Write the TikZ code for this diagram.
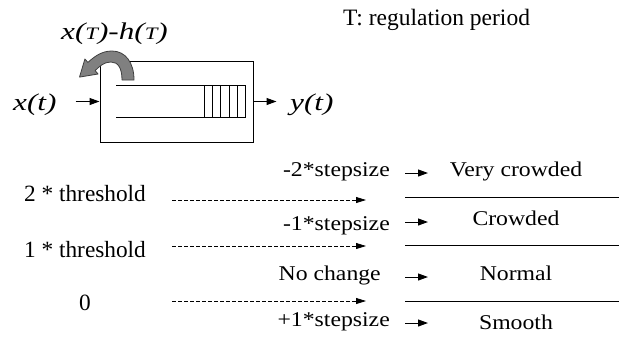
\documentclass[tikz,border=0pt]{standalone}
\usepackage{fontspec}
\setmainfont{Liberation Serif}
\newfontfamily\widefont[FakeStretch=1.3]{Liberation Serif}
\newfontfamily\halfwidefont[FakeStretch=1.13]{Liberation Serif}
\usetikzlibrary{arrows.meta}
\definecolor{loopfill}{HTML}{808080}
\definecolor{loopedge}{HTML}{404040}
\newcommand{\smallT}{{\fontsize{17.5}{20}\selectfont T}}

\begin{document}
\begin{tikzpicture}[
  x=1pt,
  y=-1pt,
  every node/.style={inner sep=0pt},
  signal/.style={font=\widefont\itshape\fontsize{24}{28}\selectfont},
  level/.style={font=\fontsize{23.3}{27}\selectfont, anchor=base},
  change/.style={font=\halfwidefont\fontsize{21}{25}\selectfont, anchor=base east},
  state/.style={font=\halfwidefont\fontsize{21}{25}\selectfont, anchor=base},
  flow/.style={line width=1pt, -{Triangle[length=10pt, width=7pt]}},
  cut/.style={line width=0.8pt, dash pattern=on 4pt off 2pt,
              -{Triangle[length=10pt, width=6pt]}},
  band/.style={line width=1pt},
  loop/.style={fill=loopfill, draw=loopedge, line width=0.8pt, line join=round}
]
  \useasboundingbox (0,0) rectangle (619,338);

  % ---- the queue ----------------------------------------------------------
  \node[draw, line width=1pt, minimum width=153pt, minimum height=81pt]
    (queuebox) at (176.5,101.5) {};
  \draw[band] (116,85) -- (245,85) -- (245,117) -- (116,117);
  \foreach \c in {204,212,220,229,237}
    \draw[band] (\c,85) -- (\c,117);

  % ---- input and output ---------------------------------------------------
  \node[signal, anchor=base west] (xin) at (13,110) {x(t)};
  \node[signal, anchor=base west] (yout) at (290,110) {y(t)};
  \draw[flow] ([xshift=-24pt]queuebox.west) -- (queuebox.west);
  \draw[flow] (queuebox.east) -- ([xshift=23pt]queuebox.east);

  % ---- feedback every period ------------------------------------------------
  % outer edge over the top, arrow head down left, inner edge back
  \filldraw[loop] (134,80) .. controls (134,62) and (125,51) .. (112,51)
    .. controls (102,51) and (95,56) .. (87.9,62.4)
    -- (84.9,59) -- (79.5,77.1) -- (98.1,74) -- (95.1,70.6)
    .. controls (100,66) and (104,62) .. (111,62)
    .. controls (118,62) and (122,68) .. (122,80) -- cycle;
  \node[signal, anchor=base] (drain) at (114.5,39) {x(\smallT)-h(\smallT)};
  \node[anchor=base west, font=\fontsize{23.5}{28}\selectfont] (period)
    at (343,25.7) {T: regulation period};

  % ---- thresholds -----------------------------------------------------------
  \node[level] (lvltwo) at (85,201) {2 * threshold};
  \node[level] (lvlone) at (85,257) {1 * threshold};
  \node[level] (lvlzero) at (85,310) {0};
  \foreach \y/\n in {200/two, 246/one, 301/zero} {
    \coordinate (cut\n a) at (172,\y);
    \coordinate (cut\n b) at (366,\y);
    \draw[cut] (cut\n a) -- (cut\n b);
  }

  % ---- changes of the step --------------------------------------------------
  \node[change] (chgtwo) at (390,176) {-2*stepsize};
  \node[change] (chgone) at (390,230) {-1*stepsize};
  \node[change] (chgnone) at (381,280) {No change};
  \node[change] (chgup) at (390,326) {+1*stepsize};

  % ---- states ---------------------------------------------------------------
  \node[state] (verycrowded) at (516,176) {Very crowded};
  \node[state] (crowded) at (516,225) {Crowded};
  \node[state] (normal) at (516,280.5) {Normal};
  \node[state] (smooth) at (516,329) {Smooth};
  \foreach \y/\n in {173/two, 222/one, 277/none, 323/up} {
    \coordinate (ptr\n a) at (405,\y);
    \coordinate (ptr\n b) at (428,\y);
    \draw[flow] (ptr\n a) -- (ptr\n b);
  }
  \foreach \y in {197,245,301}
    \draw[band] (405,\y) -- (619,\y);
\end{tikzpicture}
\end{document}
